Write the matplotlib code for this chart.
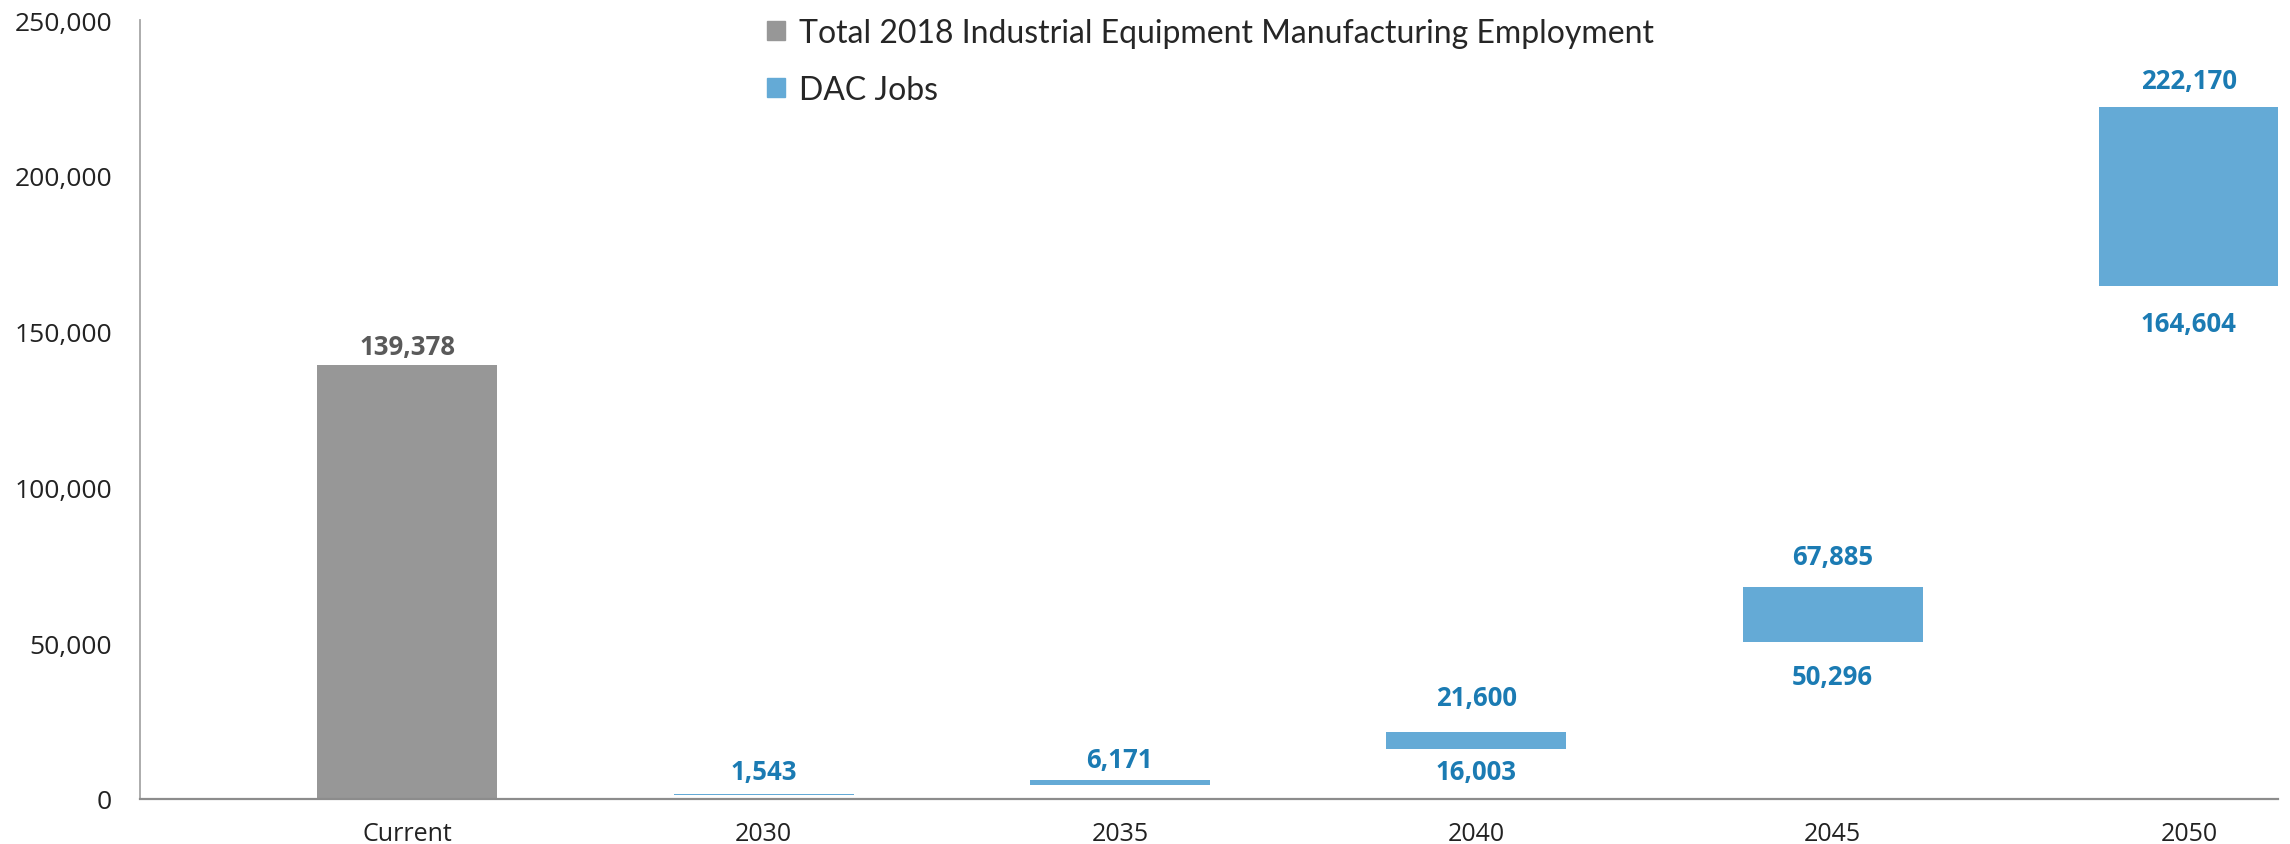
import matplotlib
matplotlib.use("Agg")
import matplotlib.pyplot as plt
from matplotlib.patches import Patch
from matplotlib.ticker import FuncFormatter

categories = ["Current", "2030", "2035", "2040", "2045", "2050"]
current_total = 139378
dac_low = [1143, 4572, 16003, 50296, 164604]
dac_high = [1543, 6171, 21600, 67885, 222170]
# only these ranges carry a lower value label
dac_low_labelled = [False, False, True, True, True]
yticks = [0, 50000, 100000, 150000, 200000, 250000]

GRAY = "#979797"
BLUE = "#64aad6"
LABEL_BLUE = "#1b7bb3"
LABEL_GRAY = "#5a5a5a"
FONT = "Open Sans"

# label offsets from bar edges, in points
current_offset = 13
top_offsets = [16, 14.5, 24.5, 22, 19]
bottom_offsets = [0, 0, -16, -25, -27]

fig = plt.figure(figsize=(22.9, 8.45), dpi=100)
ax = fig.add_axes([140 / 2290, 45 / 845, 2138 / 2290, 779 / 845])

x = list(range(len(categories)))
width = 0.505

ax.bar(x[0], current_total, width=width, color=GRAY)
heights = [h - l for h, l in zip(dac_high, dac_low)]
ax.bar(x[1:], heights, bottom=dac_low, width=width, color=BLUE)

lbl = dict(ha="center", va="center", fontsize=18.5, fontweight="bold",
           family=FONT, textcoords="offset points")
ax.annotate(f"{current_total:,}", (x[0], current_total),
            xytext=(0, current_offset), color=LABEL_GRAY, **lbl)
for xi, lo, hi, show_lo, to, bo in zip(x[1:], dac_low, dac_high,
                                       dac_low_labelled, top_offsets,
                                       bottom_offsets):
    ax.annotate(f"{hi:,}", (xi, hi), xytext=(0, to), color=LABEL_BLUE, **lbl)
    if show_lo:
        ax.annotate(f"{lo:,}", (xi, lo), xytext=(0, bo), color=LABEL_BLUE, **lbl)

ax.set_xlim(-0.75, len(categories) - 0.75)
ax.set_ylim(0, 250000)
ax.set_yticks(yticks)
ax.yaxis.set_major_formatter(FuncFormatter(lambda v, p: f"{int(v):,}"))
ax.set_xticks(x)
ax.set_xticklabels(categories)
ax.tick_params(axis="both", length=0, colors="#222222")
ax.tick_params(axis="y", pad=20, labelsize=19)
ax.tick_params(axis="x", pad=16, labelsize=18)
for t in ax.get_xticklabels() + ax.get_yticklabels():
    t.set_family(FONT)

for s in ["top", "right"]:
    ax.spines[s].set_visible(False)
ax.spines["left"].set_color("#a6a6a6")
ax.spines["left"].set_linewidth(1.3)
ax.spines["bottom"].set_color("#8c8c8c")
ax.spines["bottom"].set_linewidth(1.6)

handles = [Patch(color=GRAY), Patch(color=BLUE)]
labels = ["Total 2018 Industrial Equipment Manufacturing Employment", "DAC Jobs"]
leg = fig.legend(handles, labels, loc="upper left",
                 bbox_to_anchor=(767 / 2290, 1 - 19 / 845),
                 bbox_transform=fig.transFigure,
                 frameon=False, borderpad=0, borderaxespad=0,
                 handlelength=0.55, handleheight=0.55,
                 handletextpad=0.45, labelspacing=0.85,
                 prop={"family": "Lato", "size": 23})
for t in leg.get_texts():
    t.set_color("#262626")

fig.savefig("out.png", dpi=100, facecolor="white")
